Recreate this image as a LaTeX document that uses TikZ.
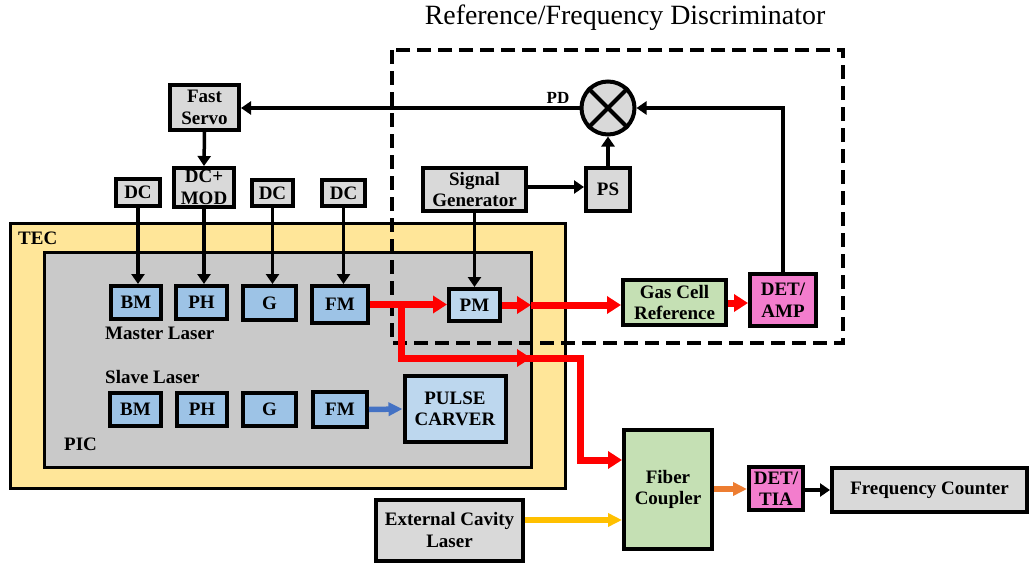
\documentclass[tikz,border=0pt]{standalone}
\usepackage{fontspec}
\setmainfont{Liberation Serif}
\usetikzlibrary{arrows.meta}

\definecolor{boxgray}{HTML}{D9D9D9}
\definecolor{picgray}{HTML}{C9C9C9}
\definecolor{tecyellow}{HTML}{FFE699}
\definecolor{laserblue}{HTML}{9DC3E6}
\definecolor{paleblue}{HTML}{BDD7EE}
\definecolor{cellgreen}{HTML}{C5E0B4}
\definecolor{detpink}{HTML}{F37DCD}
\definecolor{beamblue}{HTML}{4472C4}
\definecolor{beamyellow}{HTML}{FFC000}
\definecolor{beamorange}{HTML}{ED7D31}

\newcommand\boxfont{\bfseries\fontsize{19}{21.5}\selectfont}

\begin{document}
\begin{tikzpicture}[x=1pt,y=-1pt,
  blk/.style={draw=black, line width=4pt, font=\boxfont, align=center,
              inner sep=0pt, fill=boxgray},
  lsr/.style={blk, fill=laserblue},
  lsrpale/.style={blk, fill=paleblue},
  grn/.style={blk, fill=cellgreen},
  pnk/.style={blk, fill=detpink},
  lbl/.style={font=\boxfont, inner sep=0pt},
  wire/.style={line width=3.5pt, -{Triangle[length=10pt,width=13pt]}},
  beam/.style={draw=red, line width=7pt, line join=miter,
               -{Triangle[length=14pt,width=17pt]}},
  beamline/.style={draw=red, line width=7pt, line join=miter},
  thinbeam/.style={line width=5.5pt, -{Triangle[length=14pt,width=13pt]}},
  discr/.style={line width=4.5pt, dash pattern=on 14pt off 7pt}
]
\useasboundingbox (0,0) rectangle (1031,565);

% enclosures: thermo-electric cooler and photonic chip
\draw[fill=tecyellow, line width=3pt] (10,223) rectangle (565,488);
\draw[fill=picgray, line width=3pt] (44,252) rectangle (531,467);
\node[lbl, anchor=west] (teclbl) at (18,238) {TEC};
\node[lbl, anchor=west] (piclbl) at (64,444) {PIC};
\node[lbl, anchor=west] (mlbl) at (105,333) {Master Laser};
\node[lbl, anchor=west] (slbl) at (105,377) {Slave Laser};

% heading
\node[font=\fontsize{27.9}{32}\selectfont, inner sep=0pt] (title) at (625,18)
  {Reference/Frequency Discriminator};

% control electronics
\node[blk, minimum width=69pt, minimum height=45pt] (servo) at (204.5,107.5) {Fast\\Servo};
\node[blk, minimum width=60pt, minimum height=39pt] (dcmod) at (204,187.5) {DC+\\MOD};
\node[blk, minimum width=44pt, minimum height=27pt] (dc1) at (138,192.5) {DC};
\node[blk, minimum width=41pt, minimum height=26pt] (dc3) at (272.5,193) {DC};
\node[blk, minimum width=43pt, minimum height=26pt] (dc4) at (343.5,193) {DC};

% master laser sections
\node[lsr, minimum width=50pt, minimum height=33pt] (mbm) at (136,302.5) {BM};
\node[lsr, minimum width=51pt, minimum height=33pt] (mph) at (201.5,302.5) {PH};
\node[lsr, minimum width=53pt, minimum height=34pt] (mg) at (269.5,303) {G};
\node[lsr, minimum width=56pt, minimum height=37pt] (mfm) at (340,304.5) {FM};
\node[lsrpale, minimum width=51pt, minimum height=32pt] (pm) at (474.5,305) {PM};

% slave laser sections
\node[lsr, minimum width=51pt, minimum height=33pt] (sbm) at (135.5,409.5) {BM};
\node[lsr, minimum width=50pt, minimum height=33pt] (sph) at (202,409.5) {PH};
\node[lsr, minimum width=53pt, minimum height=33pt] (sg) at (269.5,409.5) {G};
\node[lsr, minimum width=54pt, minimum height=35pt] (sfm) at (340,409.5) {FM};
\node[lsrpale, minimum width=101pt, minimum height=66pt] (carver) at (455,409) {PULSE\\CARVER};

% discriminator blocks
\node[blk, minimum width=103pt, minimum height=43pt] (siggen) at (474.5,189.5) {Signal\\Generator};
\node[blk, minimum width=44pt, minimum height=43pt] (ps) at (608,189.5) {PS};
\node[circle, draw, line width=4pt, fill=boxgray, minimum size=53pt, inner sep=0pt] (mix) at (608,108) {};
\draw[line width=4pt] (mix.north west) -- (mix.south east)
                      (mix.north east) -- (mix.south west);
\node[grn, minimum width=103pt, minimum height=45pt] (gas) at (674.5,302.5) {Gas Cell\\Reference};
\node[pnk, minimum width=66pt, minimum height=52pt] (detamp) at (783,300) {DET/\\AMP};

% beat-note detection chain
\node[grn, minimum width=88pt, minimum height=119pt] (fiber) at (668,489.5) {Fiber\\Coupler};
\node[blk, minimum width=147pt, minimum height=61pt] (ecl) at (449.5,530) {External Cavity\\Laser};
\node[pnk, minimum width=54pt, minimum height=43pt] (dettia) at (776,488.5) {DET/\\TIA};
\node[blk, minimum width=195pt, minimum height=44pt] (fc) at (929.5,490) {Frequency Counter};

% discriminator boundary
\draw[discr] (392,50) rectangle (843,343);

% electrical connections
\draw[wire] (mix.west) -- (mix.west -| servo.east);
\node[font=\bfseries\fontsize{17}{19}\selectfont, inner sep=0pt, anchor=base east]
  (pdlbl) at ([shift={(-10pt,5pt)}]mix.west) {PD};
\draw[wire] (servo.south) -- (dcmod.north);
\draw[wire] (dc1.south) -- (dc1.south |- mbm.north);
\draw[wire] (dcmod.south) -- (dcmod.south |- mph.north);
\draw[wire] (dc3.south) -- (dc3.south |- mg.north);
\draw[wire] (dc4.south) -- (dc4.south |- mfm.north);
\draw[wire] (siggen.south) -- (siggen.south |- pm.north);
\draw[wire] (siggen.east |- 0,187) -- (ps.west |- 0,187);
\draw[wire] (ps.north) -- (mix.south);
\draw[wire] (detamp.north) -- (detamp.north |- mix.east) -- (mix.east);
\draw[wire] (dettia.east |- 0,490) -- (fc.west |- 0,490);

% optical paths
\coordinate (split) at (401,304.5);
\coordinate (picout1) at (531,305);
\coordinate (picout2) at (531,358);
\coordinate (turn) at (580,358);
\draw[beamline] (split) -- (401,358) -- (picout2);
\draw[beam] (mfm.east |- split) -- (pm.west |- split);
\draw[beam] (split |- picout2) -- (picout2);
\draw[beam] (pm.east) -- (picout1);
\draw[beam] (picout1) -- (gas.west |- picout1);
\draw[beam] (gas.east |- 0,303) -- (detamp.west |- 0,303);
\draw[beam] (picout2) -- (turn) -- (580,460) -- (fiber.west |- 0,460);
\draw[thinbeam, draw=beamblue, -{Triangle[length=14pt,width=13pt,fill=beamblue]}] (sfm.east) -- (carver.west);
\draw[thinbeam, draw=beamyellow] (ecl.east |- 0,520) -- (fiber.west |- 0,520);
\draw[thinbeam, draw=beamorange] (fiber.east |- 0,489) -- (dettia.west |- 0,489);
\end{tikzpicture}
\end{document}
